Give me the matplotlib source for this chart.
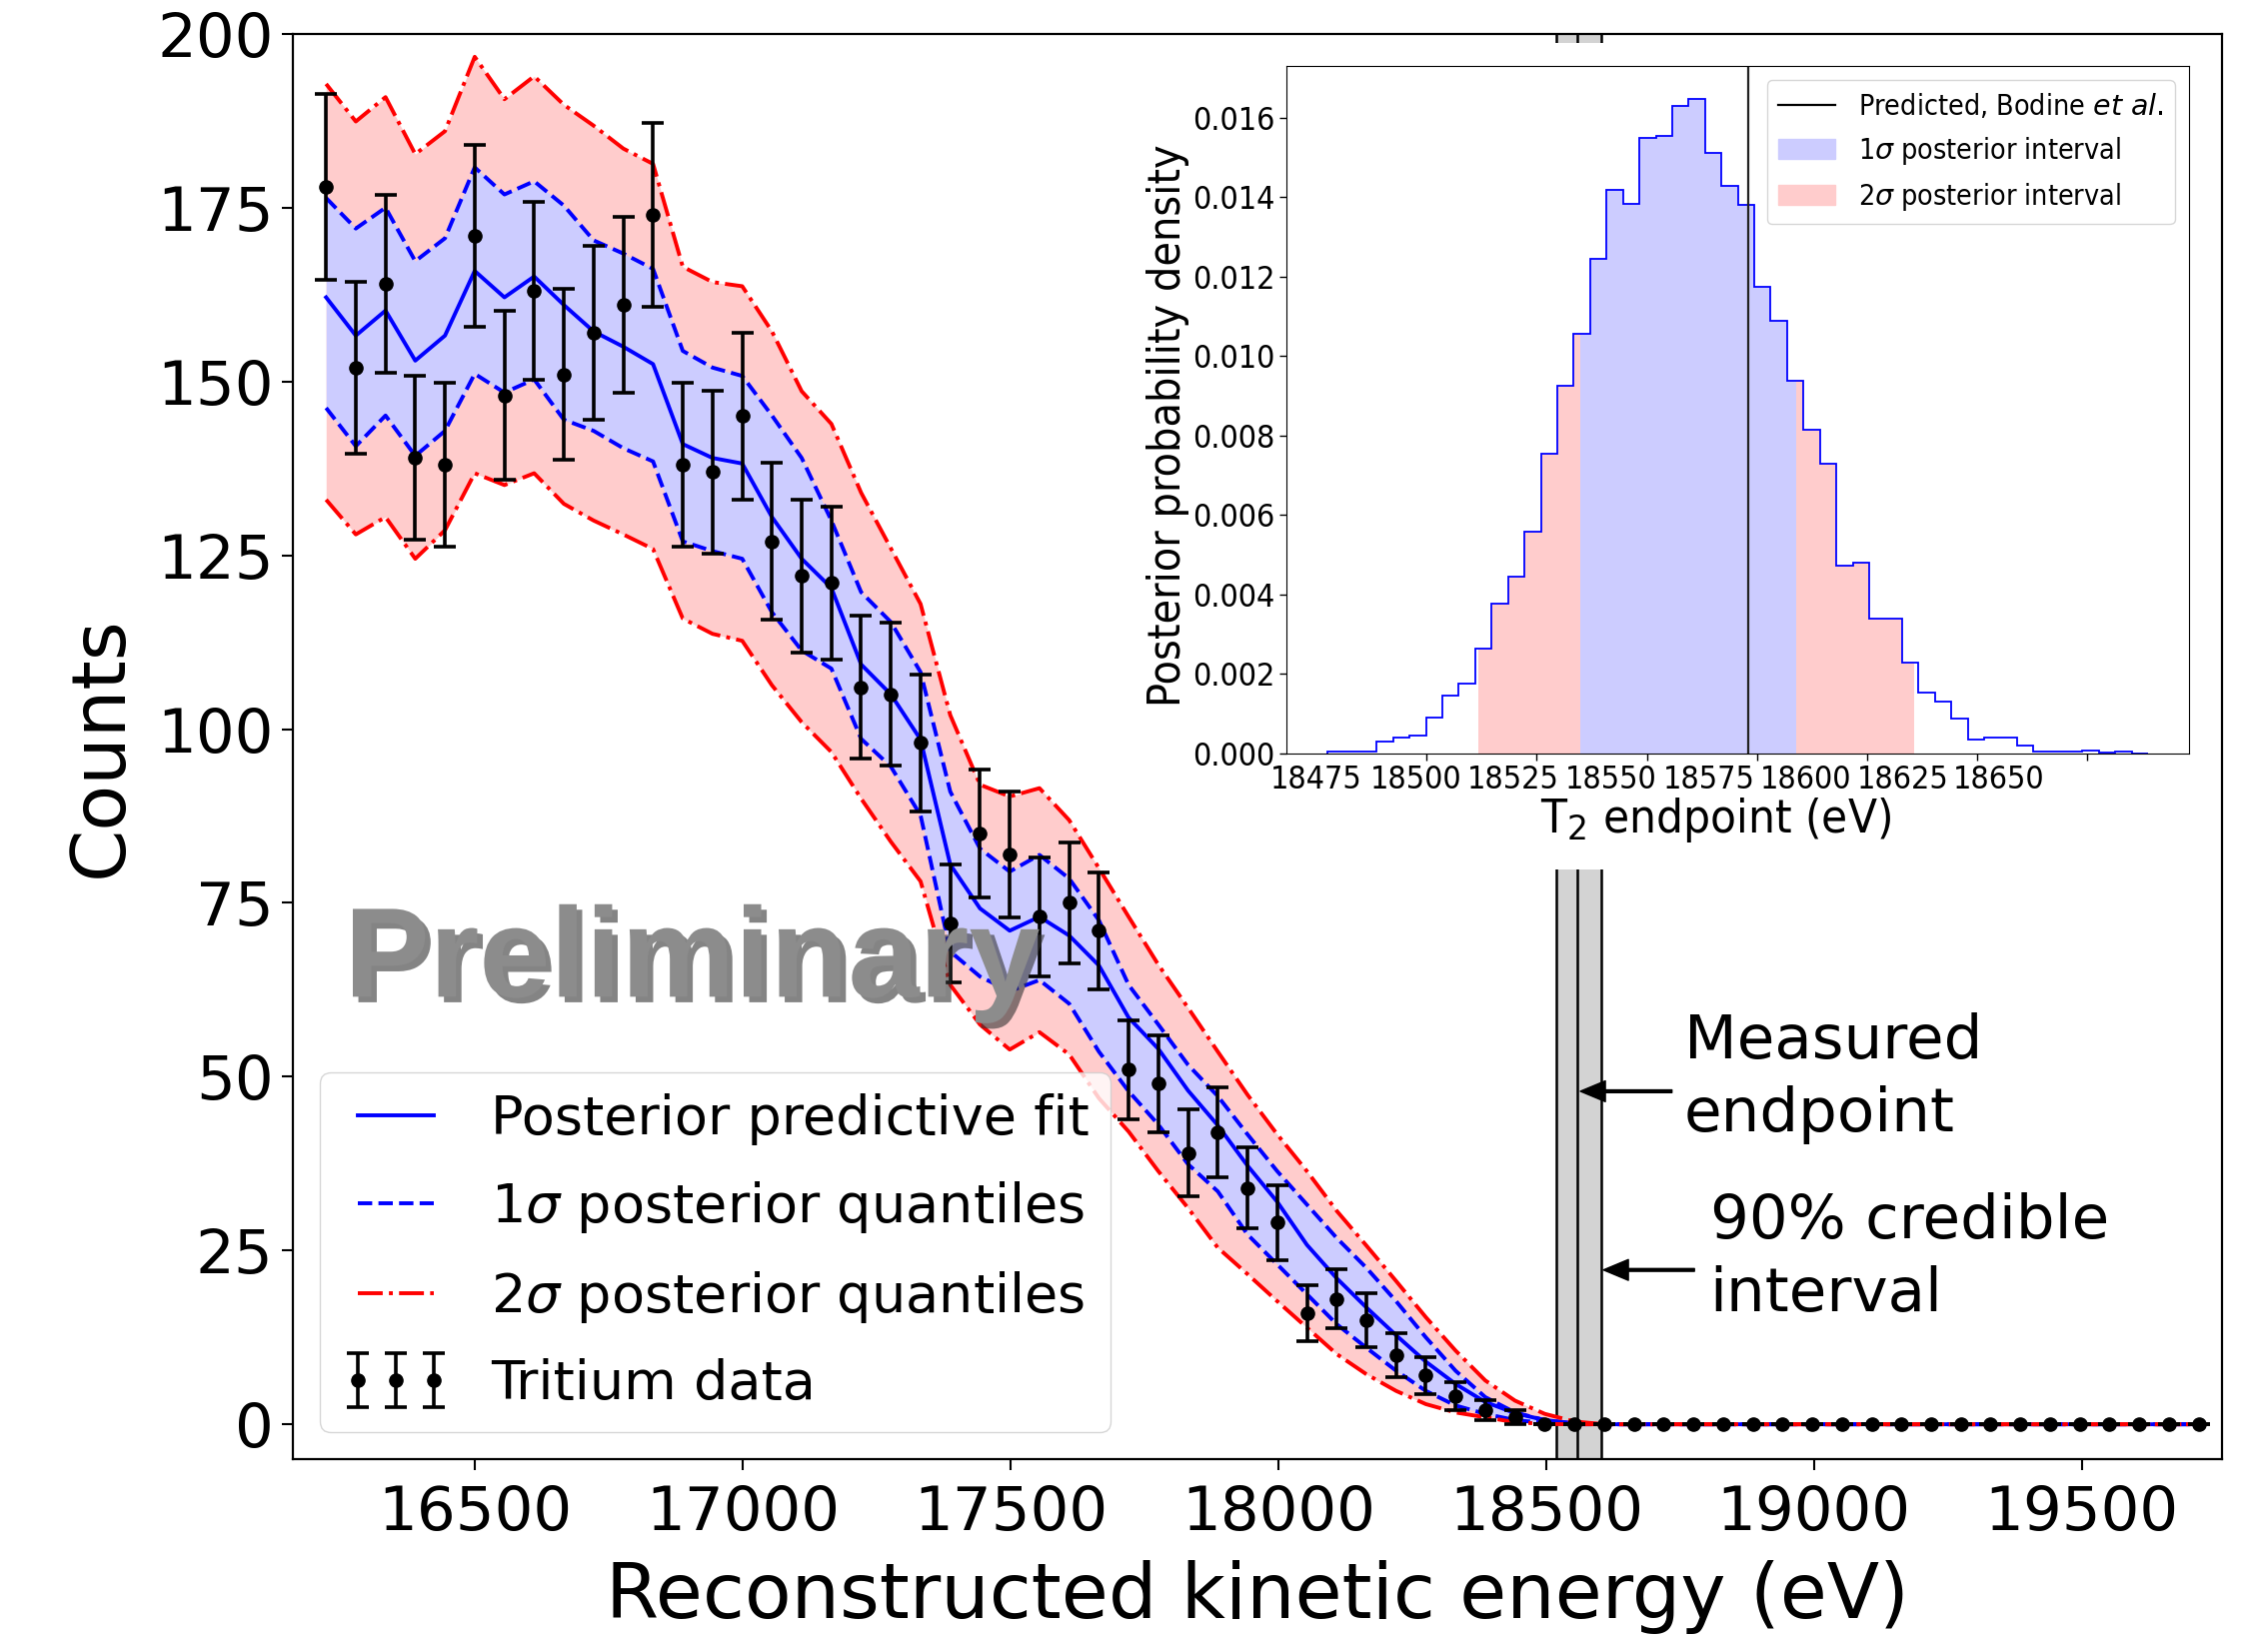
import numpy as np
import matplotlib
matplotlib.use('Agg')
import matplotlib.pyplot as plt
import matplotlib.patheffects as pe
from matplotlib.patches import Patch, Rectangle
from matplotlib.lines import Line2D

# ---- main spectrum: bin centres (eV) and counts ----
energy = [16222.0, 16277.5, 16333.0, 16388.5, 16444.0, 16499.5, 16555.0, 16610.5,
          16666.0, 16721.5, 16777.0, 16832.5, 16888.0, 16943.5, 16999.0, 17054.5,
          17110.0, 17165.5, 17221.0, 17276.5, 17332.0, 17387.5, 17443.0, 17498.5,
          17554.0, 17609.5, 17665.0, 17720.5, 17776.0, 17831.5, 17887.0, 17942.5,
          17998.0, 18053.5, 18109.0, 18164.5, 18220.0, 18275.5, 18331.0, 18386.5,
          18442.0, 18497.5, 18553.0, 18608.5, 18664.0, 18719.5, 18775.0, 18830.5,
          18886.0, 18941.5, 18997.0, 19052.5, 19108.0, 19163.5, 19219.0, 19274.5,
          19330.0, 19385.5, 19441.0, 19496.5, 19552.0, 19607.5, 19663.0, 19718.5]

counts = [178, 152, 164, 139, 138, 171, 148, 163, 151, 157, 161, 174, 138, 137, 145, 127,
          122, 121, 106, 105, 98, 72, 85, 82, 73, 75, 71, 51, 49, 39, 42, 34,
          29, 16, 18, 15, 10, 7, 4, 2, 1] + [0] * 23

fit_median = [162.1, 156.6, 160.2, 153.0, 156.6, 165.9, 162.1, 165.1, 161.0, 157.2,
              155.0, 152.5, 141.0, 139.0, 138.2, 130.5, 124.5, 120.3, 109.3, 105.0,
              98.5, 80.5, 74.2, 71.0, 73.0, 70.3, 66.0, 58.5, 54.0, 48.0,
              43.0, 37.2, 32.0, 25.8, 21.0, 16.8, 12.8, 9.0, 5.8, 3.2,
              1.6, 0.6, 0.15] + [0.0] * 21

q_hi1 = [176.4, 172.0, 175.0, 167.3, 170.6, 180.8, 176.9, 178.8, 175.3, 170.3,
         168.4, 166.2, 154.4, 152.0, 150.8, 145.1, 139.0, 130.0, 119.7, 115.4,
         108.2, 91.0, 82.8, 79.5, 81.9, 78.5, 72.5, 63.2, 57.5, 51.7,
         47.2, 41.7, 36.4, 31.6, 26.8, 22.5, 17.7, 12.5, 7.7, 3.9,
         1.7, 0.6, 0.1] + [0.0] * 21

q_lo1 = [146.2, 140.7, 145.1, 139.3, 142.9, 151.1, 148.4, 150.3, 144.5, 142.9,
         140.4, 138.5, 127.0, 125.6, 124.5, 116.8, 111.3, 108.7, 98.6, 94.6,
         87.6, 68.0, 64.4, 62.3, 63.9, 60.5, 53.6, 47.9, 43.1, 37.4,
         33.5, 27.3, 23.0, 18.7, 14.4, 11.0, 7.7, 4.8, 2.7, 1.5,
         0.6, 0.2, 0.0] + [0.0] * 21

q_hi2 = [192.8, 187.4, 190.9, 182.7, 186.0, 196.7, 190.6, 193.9, 189.8, 186.8,
         183.5, 181.3, 166.5, 164.3, 163.7, 157.2, 148.6, 143.9, 134.0, 126.0,
         118.0, 102.0, 92.0, 90.3, 91.5, 86.9, 80.0, 73.0, 66.1, 59.9,
         53.6, 47.4, 41.7, 36.4, 30.7, 25.7, 20.6, 15.4, 10.6, 6.3,
         3.4, 1.5, 0.4] + [0.0] * 21

q_lo2 = [133.0, 128.0, 130.5, 124.5, 128.6, 136.8, 135.1, 136.8, 132.4, 130.0,
         128.0, 125.9, 115.9, 113.7, 112.7, 106.3, 101.0, 96.7, 90.0, 83.8,
         78.1, 63.2, 57.5, 53.9, 56.4, 53.2, 46.9, 42.1, 36.4, 31.1,
         25.4, 21.6, 17.7, 13.9, 10.1, 7.2, 4.8, 2.9, 1.7, 1.0,
         0.3, 0.05, 0.0] + [0.0] * 21

endpoint = 18558.0
ci90 = (18520.0, 18603.0)

# ---- inset: posterior of the T2 endpoint ----
post_edges = np.linspace(18477.5, 18663.8, 51)
post_density = [0.00004, 0.00004, 0.00004, 0.00030, 0.00040, 0.00046, 0.00090, 0.00145,
                0.00176, 0.00265, 0.00378, 0.00445, 0.00558, 0.00754, 0.00926, 0.01056,
                0.01245, 0.01419, 0.01384, 0.01550, 0.01555, 0.01630, 0.01648, 0.01511,
                0.01428, 0.01381, 0.01173, 0.01089, 0.00939, 0.00814, 0.00728, 0.00473,
                0.00481, 0.00340, 0.00340, 0.00228, 0.00153, 0.00130, 0.00088, 0.00036,
                0.00041, 0.00041, 0.00021, 0.00006, 0.00006, 0.00006, 0.00008, 0.00002,
                0.00005, 0.00001]
sig1 = (18534.8, 18584.0)
sig2 = (18511.7, 18610.6)
bodine = 18573.0
inset_ticks = [18475, 18500, 18525, 18550, 18575, 18600, 18625, 18650]
inset_label_pos = [18475.0, 18497.5, 18519.6, 18541.8, 18564.1, 18586.0, 18608.0, 18629.8]

fig = plt.figure(figsize=(22.47, 16.53), dpi=100)
ax = fig.add_axes([0.1304, 0.1168, 0.8589, 0.8627])

ax.axvspan(ci90[0], ci90[1], color='#d3d3d3', zorder=0.5, lw=0)
for xv in (ci90[0], endpoint, ci90[1]):
    ax.axvline(xv, color='black', lw=1.8, zorder=0.6)

ax.fill_between(energy, q_lo2, q_hi2, color='#ffcccc', lw=0, zorder=1)
ax.fill_between(energy, q_lo1, q_hi1, color='#ccccff', lw=0, zorder=2)
l_fit, = ax.plot(energy, fit_median, color='blue', lw=2.8, zorder=3)
l_s1, = ax.plot(energy, q_hi1, color='blue', ls='--', lw=2.8, zorder=3)
ax.plot(energy, q_lo1, color='blue', ls='--', lw=2.8, zorder=3)
l_s2, = ax.plot(energy, q_hi2, color='red', ls='-.', lw=2.8, zorder=3.5)
ax.plot(energy, q_lo2, color='red', ls='-.', lw=2.8, zorder=3.5)
eb = ax.errorbar(energy, counts, yerr=np.sqrt(counts), fmt='o', color='black', ms=9.5,
                 elinewidth=2.6, capsize=8, capthick=2.6, zorder=5)

ax.set_xlim(16160, 19762)
ax.set_ylim(-5, 200)
ax.set_xticks([16500, 17000, 17500, 18000, 18500, 19000, 19500])
ax.set_yticks([0, 25, 50, 75, 100, 125, 150, 175, 200])
ax.tick_params(labelsize=44, length=8, width=1.5, pad=6)
ax.tick_params(axis='x', pad=10)
for s in ax.spines.values():
    s.set_linewidth(1.6)
ax.set_xlabel('Reconstructed kinetic energy (eV)', fontsize=55, labelpad=12)
ax.set_ylabel('Counts', fontsize=54, labelpad=14)

ax.legend([l_fit, l_s1, l_s2, eb],
          ['Posterior predictive fit', r'1$\sigma$ posterior quantiles',
           r'2$\sigma$ posterior quantiles', 'Tritium data'],
          loc='lower left', fontsize=39, numpoints=3, handlelength=2.0,
          handletextpad=0.75, labelspacing=0.62)

ax.text(16256, 61.5, 'Preliminary', fontsize=92, fontweight='bold',
        family='Liberation Sans', color='#8c8c8c', zorder=10,
        path_effects=[pe.withSimplePatchShadow(offset=(4, -4), shadow_rgbFace='#333333', alpha=0.6)])

arrow = dict(facecolor='black', edgecolor='black', width=2, headwidth=15, headlength=18)
ax.annotate('', xy=(18564, 47.9), xytext=(18735, 47.9), arrowprops=arrow)
ax.text(18758, 49.8, 'Measured\nendpoint', fontsize=44, va='center', ha='left', linespacing=1.3)
ax.annotate('', xy=(18607, 22.2), xytext=(18777, 22.2), arrowprops=arrow)
ax.text(18806, 23.9, '90% credible\ninterval', fontsize=44, va='center', ha='left', linespacing=1.3)

# white backing of the pasted inset (hides the band behind it)
fig.add_artist(Rectangle((0.507, 0.4737), 0.4788, 0.5003, transform=fig.transFigure,
                         facecolor='white', edgecolor='none', zorder=0.5))

# ---- inset ----
axi = fig.add_axes([0.5728, 0.5439, 0.4019, 0.4162])
axi.set_zorder(1)
post_density = np.array(post_density)


def fill_region(a, lo, hi, color):
    xs, ys = [], []
    for l, r, h in zip(post_edges[:-1], post_edges[1:], post_density):
        if r <= lo or l >= hi:
            continue
        xs += [max(l, lo), min(r, hi)]
        ys += [h, h]
    a.fill_between(xs, ys, color=color, lw=0)


fill_region(axi, sig2[0], sig1[0], '#ffcccc')
fill_region(axi, sig1[1], sig2[1], '#ffcccc')
fill_region(axi, sig1[0], sig1[1], '#ccccff')
axi.stairs(post_density, post_edges, color='blue', lw=1.3)
axi.axvline(bodine, color='#222222', lw=1.6)

axi.set_xlim(18468.2, 18673.1)
axi.set_ylim(0, 0.0173)
cond = dict(fontstretch='condensed')
axi.set_xticks(inset_ticks, minor=True)
axi.set_xticks(inset_label_pos, [str(t) for t in inset_ticks], fontsize=23, **cond)
axi.tick_params(axis='x', which='major', length=0, pad=8)
axi.tick_params(axis='x', which='minor', length=5, width=1)
yt = [0.0, 0.002, 0.004, 0.006, 0.008, 0.010, 0.012, 0.014, 0.016]
axi.set_yticks(yt, ['%.3f' % v for v in yt], fontsize=23, **cond)
axi.tick_params(axis='y', length=5, width=1)
axi.set_xlabel(r'T$_2$ endpoint (eV)', fontsize=34, labelpad=0, x=0.475, **cond)
axi.set_ylabel('Posterior probability density', fontsize=32, labelpad=2, y=0.477, **cond)

handles = [Line2D([], [], color='black', lw=1.6),
           Patch(color='#ccccff'), Patch(color='#ffcccc')]
axi.legend(handles, [r'Predicted, Bodine $\mathit{et\ al.}$', r'1$\sigma$ posterior interval',
                     r'2$\sigma$ posterior interval'],
           loc='upper right', prop=dict(size=20.5, stretch='condensed'))

fig.savefig('out.png', dpi=100)
